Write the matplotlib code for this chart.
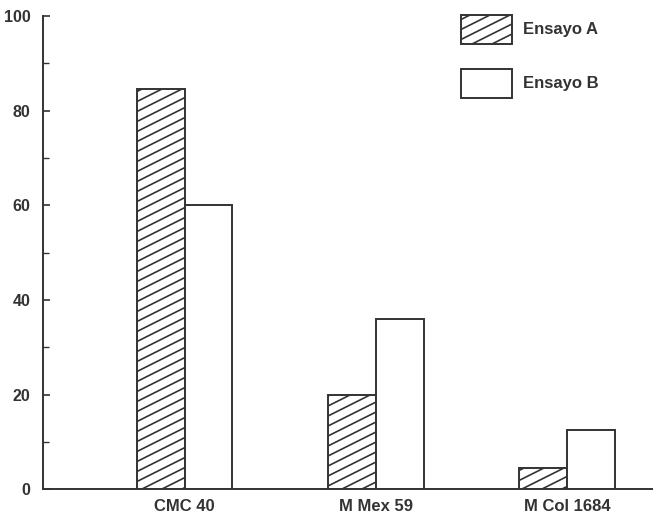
import matplotlib.pyplot as plt
import matplotlib.hatch as mhatch
from matplotlib.path import Path
import numpy as np

categories = ['CMC 40', 'M Mex 59', 'M Col 1684']
ensayo_a = [84.5, 20, 4.5]
ensayo_b = [60, 36, 12.5]

ink = '#333333'


# shallower diagonal hatch (slope 1/2) like the printed original
class ShallowHatch(mhatch.HatchPatternBase):
    def __init__(self, hatch, density):
        self.num_lines = 15 if '/' in hatch else 0
        self.num_vertices = self.num_lines * 2

    def set_vertices_and_codes(self, vertices, codes):
        k = np.arange(-5, 10) / 10.0
        vertices[0::2, 0] = 0.0
        vertices[0::2, 1] = k
        vertices[1::2, 0] = 1.0
        vertices[1::2, 1] = k + 0.5
        codes[0::2] = Path.MOVETO
        codes[1::2] = Path.LINETO


mhatch._hatch_types = [ShallowHatch if t is mhatch.NorthEastHatch else t
                       for t in mhatch._hatch_types]

plt.rcParams['hatch.linewidth'] = 1.2
plt.rcParams['hatch.color'] = ink
plt.rcParams['font.family'] = ['Liberation Sans', 'DejaVu Sans']

fig = plt.figure(figsize=(6.53, 5.16), dpi=100)
ax = fig.add_axes([0.066, 0.052, 0.934, 0.917])

x = np.arange(len(categories))
w = 0.25
ax.bar(x - w/2, ensayo_a, w, facecolor='white', edgecolor=ink, linewidth=1.4,
       hatch='/', label='Ensayo A')
ax.bar(x + w/2, ensayo_b, w, facecolor='white', edgecolor=ink, linewidth=1.4,
       label='Ensayo B')

ax.set_xlim(-0.74, 2.45)
ax.set_ylim(0, 100)
ax.set_xticks(x)
ax.set_xticklabels(categories, fontsize=12, fontweight='bold', color=ink)
ax.set_yticks(range(0, 101, 20))
ax.set_yticks(range(10, 100, 20), minor=True)
ax.tick_params(axis='y', direction='in', length=5, width=1.2, color=ink,
               labelsize=11.5, labelcolor=ink, pad=9)
ax.tick_params(axis='y', which='minor', direction='in', length=4, width=1, color=ink)
ax.tick_params(axis='x', length=0, pad=7)
for lab in ax.get_yticklabels():
    lab.set_fontweight('bold')

for s in ['top', 'right']:
    ax.spines[s].set_visible(False)
for s in ['left', 'bottom']:
    ax.spines[s].set_color(ink)
    ax.spines[s].set_linewidth(1.4)

ax.legend(loc='upper left', bbox_to_anchor=(0.685, 1.003), frameon=False,
          borderpad=0, borderaxespad=0,
          handlelength=3.05, handleheight=2.3, handletextpad=0.65, labelspacing=1.5,
          prop={'size': 12, 'weight': 'bold'}, labelcolor=ink)

plt.savefig('out.png')
